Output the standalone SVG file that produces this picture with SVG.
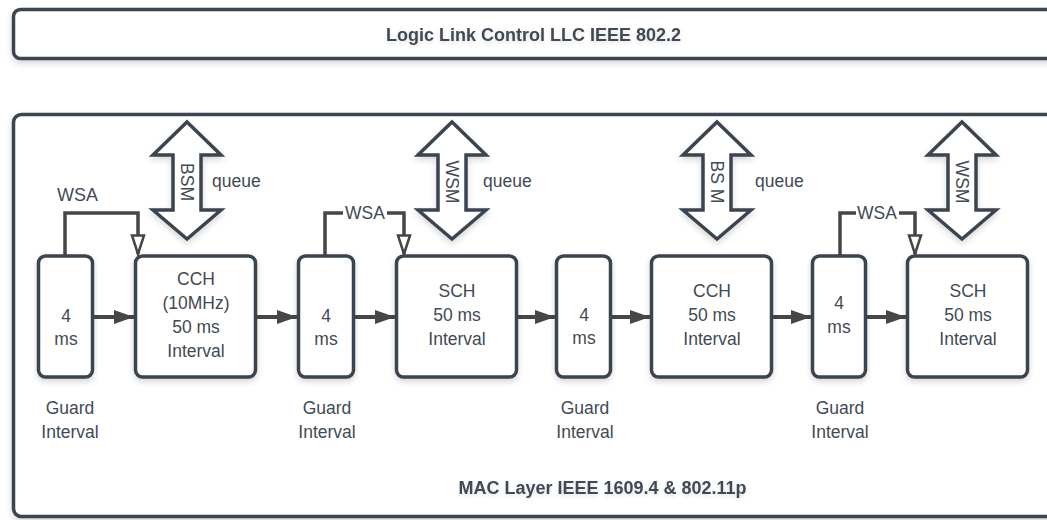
<svg xmlns="http://www.w3.org/2000/svg" width="1047" height="520" viewBox="0 0 1047 520">
<defs>
<filter id="sh" x="-10%" y="-10%" width="120%" height="130%">
<feDropShadow dx="0" dy="3" stdDeviation="3" flood-color="#000" flood-opacity="0.16"/>
</filter>
<filter id="tsh" x="-10%" y="-30%" width="120%" height="180%">
<feDropShadow dx="0" dy="2" stdDeviation="2" flood-color="#000" flood-opacity="0.12"/>
</filter>
<marker id="solid" markerUnits="userSpaceOnUse" markerWidth="20" markerHeight="14" refX="20" refY="7" orient="auto">
<path d="M0,0 L20,7 L0,14 Z" fill="#464646"/>
</marker>
<marker id="hollow" markerUnits="userSpaceOnUse" markerWidth="22" markerHeight="16" refX="20" refY="8" orient="auto">
<path d="M1.5,2 L20,8 L1.5,14 Z" fill="#fff" stroke="#464646" stroke-width="2.5" stroke-linejoin="miter"/>
</marker>
</defs>
<style>
.box{fill:#fff;stroke:#3b4550;stroke-width:3.5}
.dbl{fill:#fff;stroke:#3b4550;stroke-width:3.5;stroke-linejoin:miter}
.t{font-family:"Liberation Sans",Arial,sans-serif;font-size:17.5px;fill:#3f4a55;text-anchor:middle}
.b{font-family:"Liberation Sans",Arial,sans-serif;font-size:18px;font-weight:bold;fill:#3f4a55;text-anchor:middle}
.tl{font-family:"Liberation Sans",Arial,sans-serif;font-size:17.5px;fill:#3f4a55}
.flow{stroke:#464646;stroke-width:4;fill:none;marker-end:url(#solid)}
.wsa{stroke:#464646;stroke-width:3.5;fill:none;marker-end:url(#hollow)}
</style>
<rect width="1047" height="520" fill="#fff"/>

<g id="llc">
<rect class="box" x="13.5" y="9.5" width="1100" height="49" rx="7" filter="url(#sh)"/>
<text class="b" x="533.5" y="41" filter="url(#tsh)">Logic Link Control LLC IEEE 802.2</text>
</g>

<g id="mac">
<rect class="box" x="13.5" y="114.5" width="1100" height="402" rx="8" filter="url(#sh)"/>
<text class="b" x="602.5" y="494" filter="url(#tsh)">MAC Layer IEEE 1609.4 &amp; 802.11p</text>
</g>

<g id="bsm1">
<path class="dbl" d="M187,122 L221,155 L201,155 L201,210 L221,210 L187,239 L153,210 L173,210 L173,155 L153,155 Z" filter="url(#sh)"/>
<text class="t" transform="translate(187,182) rotate(90)" y="6">BSM</text>
<text class="tl" x="212" y="187">queue</text>
</g>
<g id="wsm1">
<path class="dbl" d="M452,122 L486,155 L466,155 L466,210 L486,210 L452,239 L418,210 L438,210 L438,155 L418,155 Z" filter="url(#sh)"/>
<text class="t" transform="translate(452,182) rotate(90)" y="6">WSM</text>
<text class="tl" x="483" y="187">queue</text>
</g>
<g id="bsm2">
<path class="dbl" d="M717,122 L751,155 L731,155 L731,210 L751,210 L717,239 L683,210 L703,210 L703,155 L683,155 Z" filter="url(#sh)"/>
<text class="t" transform="translate(717,182) rotate(90)" y="6">BS M</text>
<text class="tl" x="755" y="187">queue</text>
</g>
<g id="wsm2">
<path class="dbl" d="M962,122 L996,155 L976,155 L976,210 L996,210 L962,239 L928,210 L948,210 L948,155 L928,155 Z" filter="url(#sh)"/>
<text class="t" transform="translate(962,182) rotate(90)" y="6">WSM</text>
</g>

<g id="connectors">
<line class="flow" x1="94" y1="317" x2="134" y2="317"/>
<line class="flow" x1="257" y1="317" x2="297" y2="317"/>
<line class="flow" x1="355" y1="317" x2="395" y2="317"/>
<line class="flow" x1="518" y1="317" x2="555" y2="317"/>
<line class="flow" x1="612" y1="317" x2="650" y2="317"/>
<line class="flow" x1="773" y1="317" x2="811" y2="317"/>
<line class="flow" x1="867" y1="317" x2="906" y2="317"/>
<path class="wsa" d="M65,255 V213 H138 V254"/>
<path class="wsa" d="M325,255 V213 H404 V254"/>
<path class="wsa" d="M840,255 V213 H915 V254"/>
<text class="tl" x="57" y="201" style="font-size:18px">WSA</text>
<rect x="343" y="204" width="44" height="18" fill="#fff"/>
<text class="t" x="365" y="219">WSA</text>
<rect x="856" y="204" width="43" height="18" fill="#fff"/>
<text class="t" x="877" y="219">WSA</text>
</g>

<g id="guard1">
<rect class="box" x="38.5" y="256" width="54" height="121" rx="7" filter="url(#sh)"/>
<text class="t" x="66" y="322">4</text>
<text class="t" x="66" y="345">ms</text>
<text class="t" x="70" y="414">Guard</text>
<text class="t" x="70" y="438">Interval</text>
</g>
<g id="cch1">
<rect class="box" x="135.5" y="256" width="120" height="121" rx="7" filter="url(#sh)"/>
<text class="t" x="196" y="285">CCH</text>
<text class="t" x="196" y="309">(10MHz)</text>
<text class="t" x="196" y="333">50 ms</text>
<text class="t" x="196" y="357">Interval</text>
</g>
<g id="guard2">
<rect class="box" x="298.5" y="256" width="55" height="121" rx="7" filter="url(#sh)"/>
<text class="t" x="326" y="322">4</text>
<text class="t" x="326" y="345">ms</text>
<text class="t" x="327" y="414">Guard</text>
<text class="t" x="327" y="438">Interval</text>
</g>
<g id="sch1">
<rect class="box" x="396.5" y="256" width="120" height="121" rx="7" filter="url(#sh)"/>
<text class="t" x="457" y="297">SCH</text>
<text class="t" x="457" y="321">50 ms</text>
<text class="t" x="457" y="345">Interval</text>
</g>
<g id="guard3">
<rect class="box" x="556.5" y="256" width="54" height="121" rx="7" filter="url(#sh)"/>
<text class="t" x="584" y="321">4</text>
<text class="t" x="584" y="344">ms</text>
<text class="t" x="585" y="414">Guard</text>
<text class="t" x="585" y="438">Interval</text>
</g>
<g id="cch2">
<rect class="box" x="651.5" y="256" width="120" height="121" rx="7" filter="url(#sh)"/>
<text class="t" x="712" y="297">CCH</text>
<text class="t" x="712" y="321">50 ms</text>
<text class="t" x="712" y="345">Interval</text>
</g>
<g id="guard4">
<rect class="box" x="812.5" y="256" width="53" height="121" rx="7" filter="url(#sh)"/>
<text class="t" x="839" y="309">4</text>
<text class="t" x="839" y="333">ms</text>
<text class="t" x="840" y="414">Guard</text>
<text class="t" x="840" y="438">Interval</text>
</g>
<g id="sch2">
<rect class="box" x="907.5" y="256" width="120" height="121" rx="7" filter="url(#sh)"/>
<text class="t" x="968" y="297">SCH</text>
<text class="t" x="968" y="321">50 ms</text>
<text class="t" x="968" y="345">Interval</text>
</g>
</svg>
